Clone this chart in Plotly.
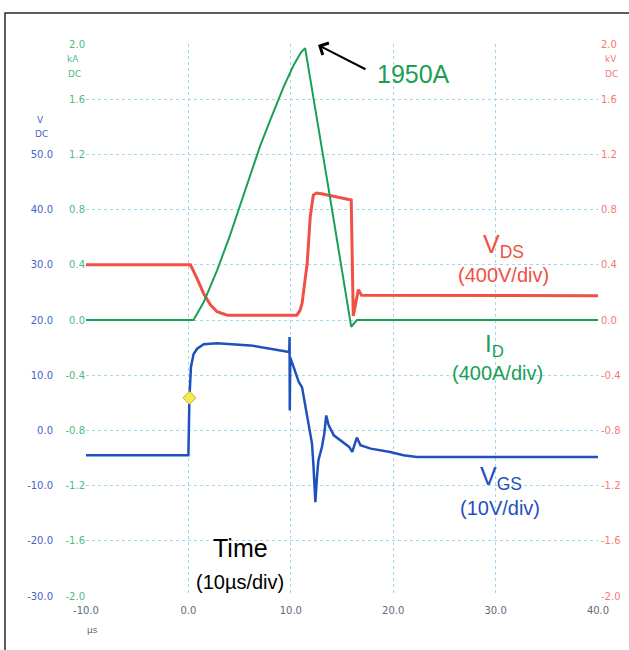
import plotly.graph_objects as go

# ---------------- data ----------------
# Drain current I_D, kA
t_id = [-10, 0.5, 1.5, 2.8, 4.0, 5.0, 6.0, 7.0, 8.0, 9.3, 10.3, 11.0, 11.4, 12.2, 13.85, 15.9, 16.45, 20, 40]
i_d = [0.0, 0.0, 0.13, 0.36, 0.60, 0.82, 1.05, 1.26, 1.45, 1.69, 1.85, 1.94, 1.97, 1.62, 0.88, -0.05, 0.0, 0.0, 0.0]

# Drain-source voltage V_DS, kV
t_vds = [-10, 0.2, 0.85, 1.5, 2.15, 2.8, 3.8, 10.6, 10.9, 11.1, 11.6, 11.9, 12.2, 12.5, 13.0, 14.0, 15.0, 15.9,
         16.1, 16.6, 16.9, 40]
v_ds = [0.40, 0.40, 0.30, 0.19, 0.11, 0.06, 0.035, 0.035, 0.07, 0.12, 0.41, 0.75, 0.905, 0.92, 0.915, 0.90, 0.885,
        0.87, 0.03, 0.22, 0.18, 0.175]

# Gate-source voltage V_GS, V
t_vgs = [-10, 0.0, 0.1, 0.25, 0.5, 0.85, 1.5, 2.8, 6.05, 8.65, 9.7, 9.85, 9.88, 9.9, 9.95, 10.27, 10.77, 11.1, 11.6,
         12.07, 12.2, 12.4, 12.55, 12.7, 13.04, 13.27, 13.46, 13.7, 14.2, 15.0, 15.7, 16.0, 16.2, 16.45, 16.8,
         17.8, 19.7, 21.0, 22.3, 40]
v_gs = [-4.5, -4.5, 5.9, 11.5, 13.8, 14.8, 15.6, 15.8, 15.4, 14.6, 14.2, 14.2, 16.9, 3.6, 13.2, 11.5, 8.8, 7.8, 2.4,
        -2.4, -6.0, -13.0, -8.5, -5.4, -3.0, -0.6, 2.7, 0.9, -0.9, -2.1, -3.0, -3.9, -2.7, -1.3, -2.7,
        -3.3, -3.9, -4.5, -4.8, -4.8]

marker_t = [0.1]
marker_v = [5.9]

x_ticks = [-10, 0, 10, 20, 30, 40]
x_ticktext = ["-10.0", "0.0", "10.0", "20.0", "30.0", "40.0"]
ka_ticks = [-2.0, -1.6, -1.2, -0.8, -0.4, 0.0, 0.4, 0.8, 1.2, 1.6, 2.0]
ka_ticktext = ["-2.0", "-1.6", "-1.2", "-0.8", "-0.4", "0.0", "0.4", "0.8", "1.2", "1.6", "2.0"]
v_ticks = [-30, -20, -10, 0, 10, 20, 30, 40, 50, 60, 70]
v_ticktext = ["-30.0", "-20.0", "-10.0", "0.0", "10.0", "20.0", "30.0", "40.0", "50.0", " ", " "]

# ---------------- colours ----------------
GREEN = "rgb(25,160,85)"
RED = "rgb(240,80,70)"
BLUE = "rgb(30,80,190)"
GRID = "rgb(160,215,240)"
GREEN_T = "rgb(80,185,135)"
RED_T = "rgb(245,120,120)"
BLUE_T = "rgb(70,100,200)"
X_T = "rgb(95,105,125)"
FONT = "Liberation Sans"
TFONT = "DejaVu Sans"

W, H = 629, 650
L, R, T, B = 2, 2, 44, 54
PW, PH = W - L - R, H - T - B
X0, X1 = 86, 598  # plot area in pixels


def pxx(px):
    return (px - L) / PW


def pxy(py):
    return (H - B - py) / PH


def dx(px):  # pixel -> time
    return -10 + (px - X0) / (X1 - X0) * 50


def dy(py):  # pixel -> kA
    return 2 - (py - T) / PH * 4


fig = go.Figure()
fig.add_trace(go.Scatter(x=t_vgs, y=v_gs, mode="lines", line=dict(color=BLUE, width=2.5), yaxis="y",
                         showlegend=False))
fig.add_trace(go.Scatter(x=marker_t, y=marker_v, mode="markers", yaxis="y",
                         marker=dict(symbol="diamond", size=10, color="rgb(245,235,80)",
                                     line=dict(color="rgb(190,180,40)", width=1)), showlegend=False))
fig.add_trace(go.Scatter(x=t_vds, y=v_ds, mode="lines", line=dict(color=RED, width=3), yaxis="y2",
                         showlegend=False))
fig.add_trace(go.Scatter(x=t_id, y=i_d, mode="lines", line=dict(color=GREEN, width=2), yaxis="y3",
                         showlegend=False))

fig.update_layout(
    width=W, height=H,
    margin=dict(l=L, r=R, t=T, b=B),
    paper_bgcolor="white", plot_bgcolor="white",
    xaxis=dict(domain=[pxx(X0), pxx(X1)], range=[-10, 40], tickvals=x_ticks, ticktext=x_ticktext,
               showgrid=True, gridcolor=GRID, griddash="dot", gridwidth=1, zeroline=False, showline=False,
               tickfont=dict(family=TFONT, size=10, color=X_T), ticks="", ticklabelstandoff=7,
               automargin=False, anchor="y"),
    yaxis=dict(range=[-30, 70], tickvals=v_ticks, ticktext=v_ticktext, anchor="free", position=pxx(53),
               showgrid=True, gridcolor=GRID, griddash="dot", gridwidth=1, zeroline=False, showline=False,
               tickfont=dict(family=TFONT, size=10, color=BLUE_T), ticks="", automargin=False),
    yaxis2=dict(range=[-2, 2], tickvals=ka_ticks, ticktext=ka_ticktext, overlaying="y", side="right",
                anchor="x", showgrid=False, zeroline=False, showline=False, ticklabelstandoff=2,
                tickfont=dict(family=TFONT, size=10, color=RED_T), ticks="", automargin=False),
    yaxis3=dict(range=[-2, 2], tickvals=ka_ticks, ticktext=ka_ticktext, overlaying="y", side="left",
                anchor="x", showgrid=False, zeroline=False, showline=False,
                tickfont=dict(family=TFONT, size=10, color=GREEN_T), ticks="", automargin=False),
)

ann = []


def add_text(px, py, text, color, size, xanchor="center", family=FONT):
    ann.append(dict(x=pxx(px), y=pxy(py), xref="paper", yref="paper", text=text, showarrow=False,
                    font=dict(family=family, size=size, color=color), xanchor=xanchor, yanchor="middle"))


# units labels
add_text(40, 120, "V", BLUE_T, 9, family=TFONT)
add_text(41, 134, "DC", BLUE_T, 9, family=TFONT)
add_text(73, 59, "kA", GREEN_T, 9, family=TFONT)
add_text(74, 74, "DC", GREEN_T, 9, family=TFONT)
add_text(603, 59, "kV", RED_T, 9, "left", family=TFONT)
add_text(603, 74, "DC", RED_T, 9, "left", family=TFONT)
add_text(92, 630, "µs", X_T, 9, family=TFONT)

# trace labels
add_text(503, 246, "V<sub>DS</sub>", RED, 25)
add_text(503, 275, "(400V/div)", RED, 20)
add_text(495, 345, "I<sub>D</sub>", GREEN, 24)
add_text(497, 373, "(400A/div)", GREEN, 20)
add_text(501, 478, "V<sub>GS</sub>", BLUE, 25)
add_text(500, 508, "(10V/div)", BLUE, 20)
add_text(240, 548, "Time", "black", 25)
add_text(240, 582, "(10µs/div)", "black", 20)
add_text(413, 74, "1950A", GREEN, 25)

# arrow to the peak
ann.append(dict(x=dx(318), y=dy(45), xref="x", yref="y3", ax=dx(367), ay=dy(70), axref="x", ayref="y3",
                text="", showarrow=True, arrowhead=4, arrowsize=1.3, arrowwidth=2, arrowcolor="black"))

fig.update_layout(annotations=ann)

# outer frame
fig.add_shape(type="rect", xref="paper", yref="paper", x0=pxx(5), x1=pxx(660), y0=pxy(670), y1=pxy(13),
              line=dict(color="rgb(40,40,40)", width=1.5), fillcolor="rgba(0,0,0,0)", layer="above")

fig.write_html("out.html", config={"displayModeBar": False},
               post_script="document.body.style.margin='0px';")
